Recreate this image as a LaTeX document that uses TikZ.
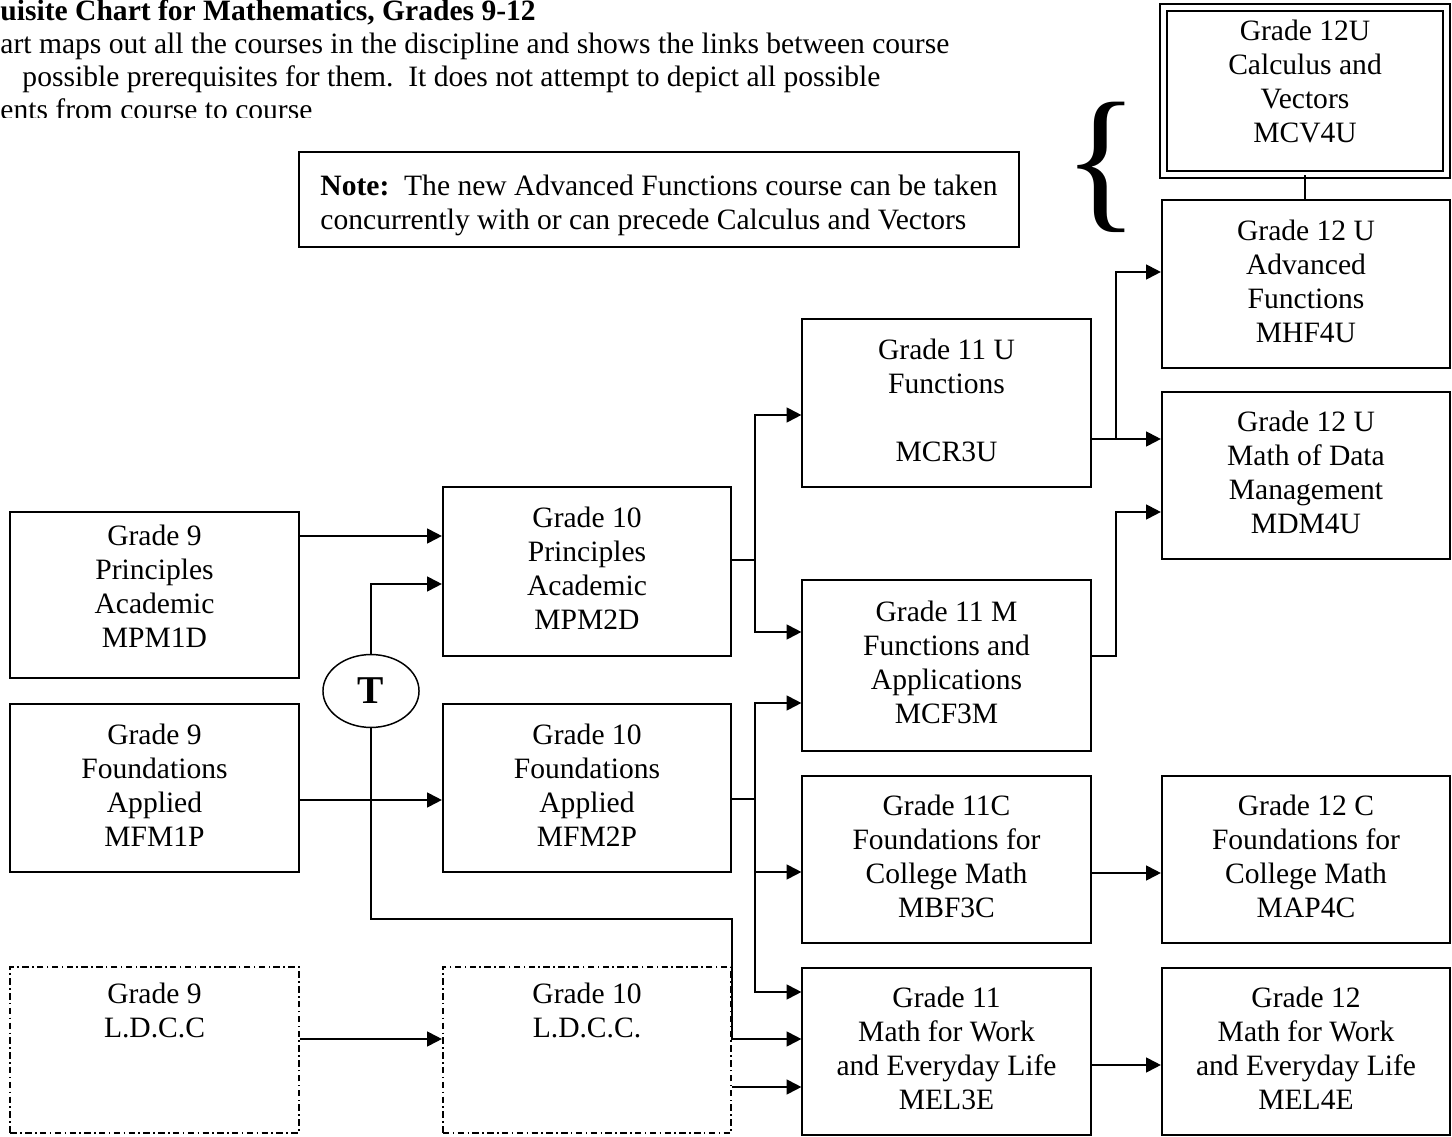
\documentclass[tikz,border=0pt]{standalone}
\usepackage{fontspec}
\setmainfont{Liberation Serif}
\usetikzlibrary{arrows.meta,shapes.geometric}

\tikzset{
  course/.style={draw, line width=0.8pt, align=center, inner sep=0pt,
    minimum width=117pt, minimum height=68pt, text depth=2.4pt,
    font=\fontsize{12}{13.8}\selectfont},
  ldcc/.style={course, dash pattern=on 2.6pt off 1.4pt on 0.6pt off 1.4pt},
  arr/.style={line width=0.8pt, -{Triangle[length=6pt,width=6pt]}},
  link/.style={line width=0.8pt},
  header/.style={anchor=base west, inner sep=0pt, font=\fontsize{12}{13.4}\selectfont}
}

\begin{document}
\begin{tikzpicture}[x=0.406pt, y=-0.406pt]
  \useasboundingbox (0,0) rectangle (1452,1137);

  % heading, cut off at the left and bottom
  \begin{scope}
    \clip (0,0) rectangle (1050,118);
    \node[header, font=\bfseries\fontsize{12}{13.4}\selectfont] (title) at (0,21) {uisite Chart for Mathematics, Grades 9-12};
    \node[header] (introa) at (0,54) {art maps out all the courses in the discipline and shows the links between course};
    \node[header] (introb) at (22,87) {possible prerequisites for them.\ \ It does not attempt to depict all possible};
    \node[header] (introc) at (0,120) {ents from course to course};
  \end{scope}

  % note and brace
  \node[draw, line width=0.8pt, align=left, inner sep=0pt, minimum width=292.3pt,
    minimum height=38.6pt, font=\fontsize{12}{13.8}\selectfont] (note) at (659,199.5)
    {\rule{0pt}{13.3pt}\textbf{Note:}\ \ The new Advanced Functions course can be taken\\concurrently with or can precede Calculus and Vectors};
  \node[inner sep=0pt, font=\fontsize{64}{64}\selectfont] (brace) at (1101,167) {\{};

  % grade 9
  \node[course, minimum height=67.4pt, text depth=7.3pt] (mpm1d) at (154.5,595) {Grade 9\\Principles\\Academic\\MPM1D};
  \node[course] (mfm1p) at (154.5,788) {Grade 9\\Foundations\\Applied\\MFM1P};
  \node[ldcc, minimum height=67.4pt] (ldcc9) at (154.5,1050) {Grade 9\\L.D.C.C\\~\\[2.5pt]~};
  \node[draw, ellipse, line width=0.6pt, inner sep=0pt, minimum width=39pt, minimum height=29.6pt,
    font=\bfseries\fontsize{16}{16}\selectfont] (t) at (371,691) {T};

  % grade 10
  \node[course, minimum height=68.6pt] (mpm2d) at (587,571.5) {Grade 10\\Principles\\Academic\\MPM2D};
  \node[course] (mfm2p) at (587,788) {Grade 10\\Foundations\\Applied\\MFM2P};
  \node[ldcc, minimum height=67.4pt] (ldcc10) at (587,1050) {Grade 10\\L.D.C.C.\\~\\[2.5pt]~};

  % grade 11
  \node[course] (mcr3u) at (946.5,403) {Grade 11 U\\Functions\\~\\MCR3U};
  \node[course, minimum height=69.4pt] (mcf3m) at (946.5,665.5) {Grade 11 M\\Functions and\\Applications\\MCF3M};
  \node[course] (mbf3c) at (946.5,859.5) {Grade 11C\\Foundations for\\College Math\\MBF3C};
  \node[course] (mel3e) at (946.5,1051.5) {Grade 11\\Math for Work\\and Everyday Life\\MEL3E};

  % grade 12
  \node[course, double, line width=0.7pt, double distance=2.2pt, minimum width=114.9pt, minimum height=67.8pt,
    text depth=8.1pt] (mcv4u) at (1305,91) {Grade 12U\\Calculus and\\Vectors\\MCV4U};
  \node[course] (mhf4u) at (1306,284) {Grade 12 U\\Advanced\\Functions\\MHF4U};
  \node[course] (mdm4u) at (1306,475.5) {Grade 12 U\\Math of Data\\Management\\MDM4U};
  \node[course] (map4c) at (1306,859.5) {Grade 12 C\\Foundations for\\College Math\\MAP4C};
  \node[course] (mel4e) at (1306,1051.5) {Grade 12\\Math for Work\\and Everyday Life\\MEL4E};

  % grade 9 to grade 10
  \draw[arr] (mpm1d.east |- 0,536) -- (mpm2d.west |- 0,536);
  \draw[arr] (t.north) |- (mpm2d.west |- 0,584);
  \draw[arr] (t.south) |- (mfm2p.east |- 0,919) |- (mel3e.west |- 0,1039);
  \draw[arr] (mfm1p.east |- 0,800) -- (mfm2p.west |- 0,800);
  \draw[arr] (ldcc9.east |- 0,1039) -- (ldcc10.west |- 0,1039);

  % grade 10 to grade 11
  \draw[link] (mpm2d.east |- 0,560) -- ++(23,0) coordinate (ja);
  \draw[arr] (ja) |- (mcr3u.west |- 0,415);
  \draw[arr] (ja) |- (mcf3m.west |- 0,632);
  \draw[link] (mfm2p.east |- 0,799) -- ++(23,0) coordinate (jb);
  \draw[arr] (jb) |- (mcf3m.west |- 0,703);
  \draw[arr] (jb) |- (mbf3c.west |- 0,872);
  \draw[arr] (jb) |- (mel3e.west |- 0,992);
  \draw[arr] (ldcc10.east |- 0,1087) -- (mel3e.west |- 0,1087);

  % grade 11 to grade 12
  \draw[arr] (mcr3u.east |- 0,439) -- (mdm4u.west |- 0,439);
  \draw[arr] (mcr3u.east |- 0,439) -- ++(24,0) |- (mhf4u.west |- 0,272);
  \draw[arr] (mcf3m.east |- 0,656) -- ++(24,0) |- (mdm4u.west |- 0,512);
  \draw[arr] (mbf3c.east |- 0,873) -- (map4c.west |- 0,873);
  \draw[arr] (mel3e.east |- 0,1065) -- (mel4e.west |- 0,1065);
  \draw[link] (mcv4u.south) -- (mcv4u.south |- mhf4u.north);
\end{tikzpicture}
\end{document}
